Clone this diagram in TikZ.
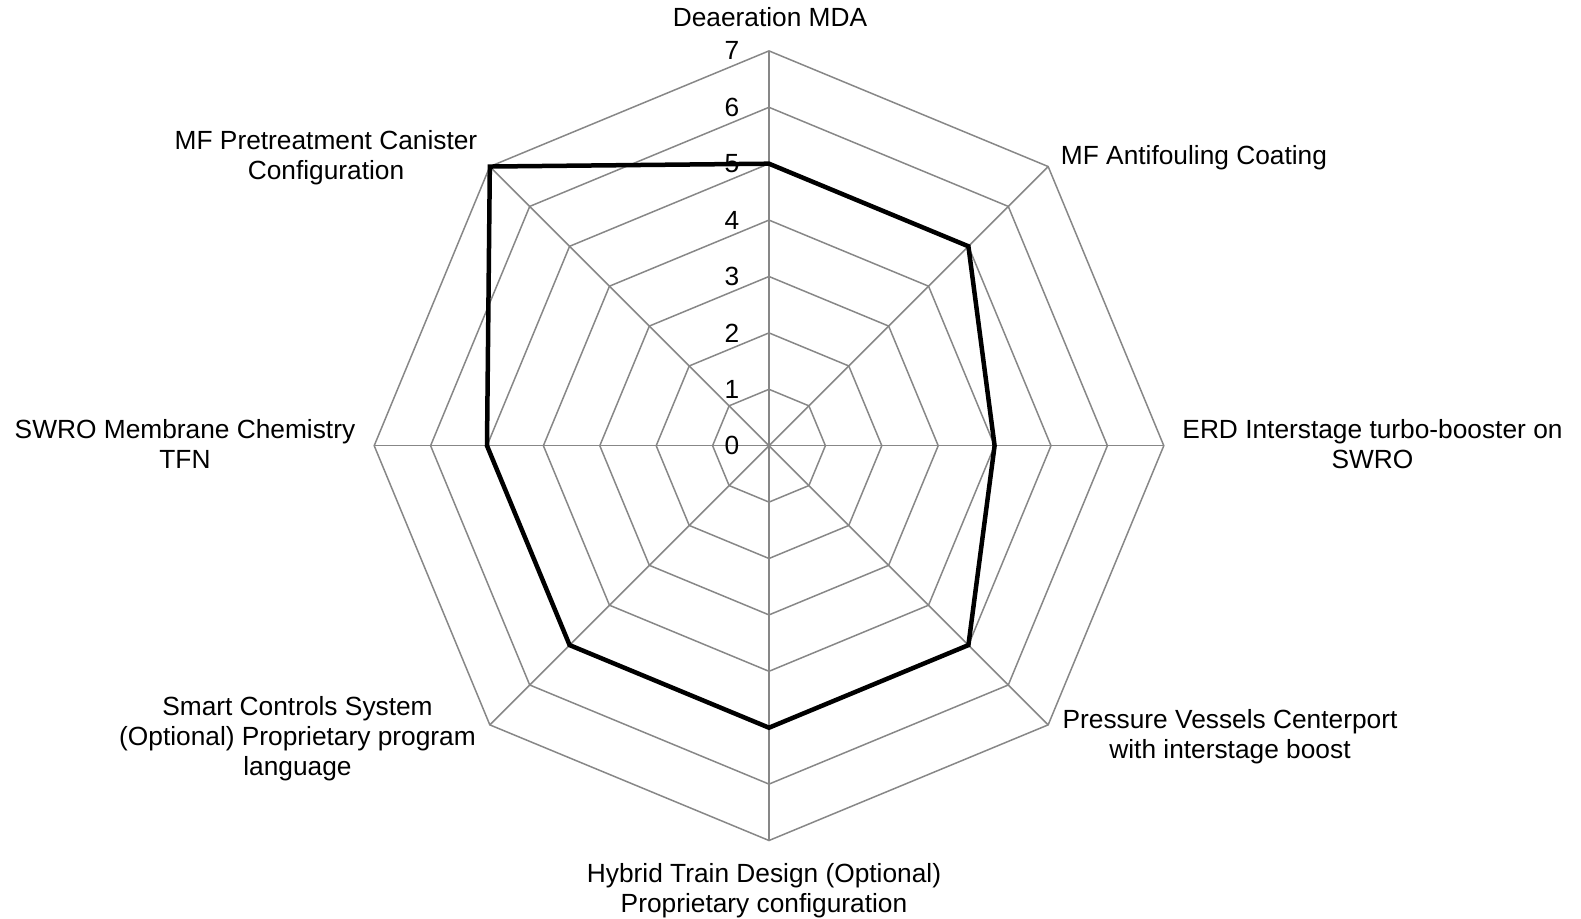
\documentclass[tikz,border=0pt]{standalone}
\usepackage{fontspec}
\setmainfont{Liberation Sans}
\tikzset{
  grid/.style={draw=black!47, line width=1.5pt},
  series/.style={draw=black, line width=4.5pt, line join=miter},
  tick/.style={anchor=east, inner sep=0pt, font=\fontsize{26.3}{30}\selectfont},
  axislabel/.style={anchor=base, inner sep=0pt, align=center, font=\fontsize{26.3}{30}\selectfont}
}
\begin{document}
\begin{tikzpicture}[x=1pt,y=1pt]
\useasboundingbox (-769,-472.3) rectangle (812,445.7);

% rings
\draw[grid] (90:56.4) -- (45:56.4) -- (0:56.4) -- (-45:56.4) -- (-90:56.4) -- (-135:56.4) -- (180:56.4) -- (135:56.4) -- cycle;
\draw[grid] (90:112.8) -- (45:112.8) -- (0:112.8) -- (-45:112.8) -- (-90:112.8) -- (-135:112.8) -- (180:112.8) -- (135:112.8) -- cycle;
\draw[grid] (90:169.2) -- (45:169.2) -- (0:169.2) -- (-45:169.2) -- (-90:169.2) -- (-135:169.2) -- (180:169.2) -- (135:169.2) -- cycle;
\draw[grid] (90:225.6) -- (45:225.6) -- (0:225.6) -- (-45:225.6) -- (-90:225.6) -- (-135:225.6) -- (180:225.6) -- (135:225.6) -- cycle;
\draw[grid] (90:282) -- (45:282) -- (0:282) -- (-45:282) -- (-90:282) -- (-135:282) -- (180:282) -- (135:282) -- cycle;
\draw[grid] (90:338.4) -- (45:338.4) -- (0:338.4) -- (-45:338.4) -- (-90:338.4) -- (-135:338.4) -- (180:338.4) -- (135:338.4) -- cycle;
\draw[grid] (90:394.8) -- (45:394.8) -- (0:394.8) -- (-45:394.8) -- (-90:394.8) -- (-135:394.8) -- (180:394.8) -- (135:394.8) -- cycle;

% spokes
\coordinate (o) at (0,0);
\coordinate (a1) at (90:394.8);
\coordinate (a2) at (45:394.8);
\coordinate (a3) at (0:394.8);
\coordinate (a4) at (-45:394.8);
\coordinate (a5) at (-90:394.8);
\coordinate (a6) at (-135:394.8);
\coordinate (a7) at (180:394.8);
\coordinate (a8) at (135:394.8);
\draw[grid] (o) -- (a1);
\draw[grid] (o) -- (a2);
\draw[grid] (o) -- (a3);
\draw[grid] (o) -- (a4);
\draw[grid] (o) -- (a5);
\draw[grid] (o) -- (a6);
\draw[grid] (o) -- (a7);
\draw[grid] (o) -- (a8);

% scale
\node[tick] (n0) at (-29.5,0) {0};
\node[tick] (n1) at (-29.5,56.4) {1};
\node[tick] (n2) at (-29.5,112.8) {2};
\node[tick] (n3) at (-29.5,169.2) {3};
\node[tick] (n4) at (-29.5,225.6) {4};
\node[tick] (n5) at (-29.5,282) {5};
\node[tick] (n6) at (-29.5,338.4) {6};
\node[tick] (n7) at (-29.5,394.8) {7};

% categories
\node[axislabel] (l1) at (1,418.7) {Deaeration MDA};
\node[axislabel] (l2) at (425,280.7) {MF Antifouling Coating};
\node[axislabel] (l3) at (603.5,-22.3) {ERD Interstage turbo-booster on\\SWRO};
\node[axislabel] (l4) at (461,-313) {Pressure Vessels Centerport\\with interstage boost};
\node[axislabel] (l5) at (-5,-467) {Hybrid Train Design (Optional)\\Proprietary configuration};
\node[axislabel] (l6) at (-471.5,-329.3) {Smart Controls System\\(Optional) Proprietary program\\language};
\node[axislabel] (l7) at (-584,-22.3) {SWRO Membrane Chemistry\\TFN};
\node[axislabel] (l8) at (-443,266.5) {MF Pretreatment Canister\\Configuration};

% scores
\coordinate (v1) at (90:282);
\coordinate (v2) at (45:282);
\coordinate (v3) at (0:225.6);
\coordinate (v4) at (-45:282);
\coordinate (v5) at (-90:282);
\coordinate (v6) at (-135:282);
\coordinate (v7) at (180:282);
\coordinate (v8) at (135:394.8);
\draw[series] (v1) -- (v2) -- (v3) -- (v4) -- (v5) -- (v6) -- (v7) -- (v8) -- cycle;
\end{tikzpicture}
\end{document}
